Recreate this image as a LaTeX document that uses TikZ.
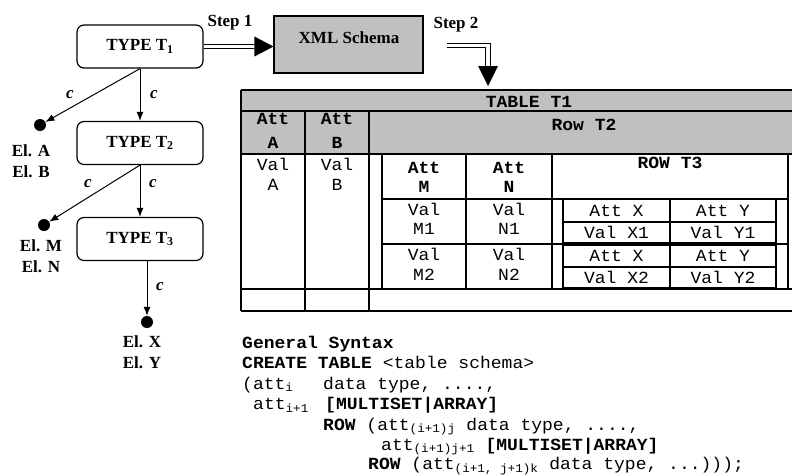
\documentclass[tikz,border=0pt]{standalone}
\usepackage{fontspec}
\setmainfont{Liberation Serif}
\newfontfamily\codefont[FakeStretch=1.06]{Liberation Mono}
\usetikzlibrary{arrows.meta,calc}
\definecolor{hdrgray}{HTML}{C0C0C0}
\tikzset{
  typebox/.style={draw, line width=1.2pt, rounded corners=7pt, minimum width=126pt, minimum height=43pt, inner sep=0pt, font=\fontsize{17}{20}\selectfont\bfseries},
  dotnode/.style={circle, fill=black, inner sep=0pt, minimum size=12pt},
  elabel/.style={font=\fontsize{17}{21}\selectfont\bfseries, align=center, inner sep=0pt},
  clabel/.style={font=\fontsize{17}{20}\selectfont\bfseries\itshape, inner sep=0pt},
  steplabel/.style={font=\fontsize{17}{20}\selectfont\bfseries, inner sep=0pt, anchor=base},
  conn/.style={line width=1pt, -{Latex[length=9pt,width=7pt]}},
  dbl/.style={double, double distance=3.4pt, line width=1.2pt, line join=miter},
  tline/.style={line width=1.4pt},
  nline/.style={line width=1.1pt},
  cell/.style={font=\codefont\fontsize{17}{20}\selectfont, inner sep=0pt, anchor=base},
  cellb/.style={cell, font=\codefont\fontsize{17}{20}\selectfont\bfseries},
  code/.style={font=\codefont\fontsize{17}{20}\selectfont, inner sep=0pt, anchor=base west}
}
\begin{document}
\begin{tikzpicture}[x=1pt,y=-1pt]
\useasboundingbox (0,0) rectangle (792,475);
\clip (0,0) rectangle (792,475);

% ---------- left tree ----------
\node[typebox] (t1) at (140,46.5) {TYPE T\textsubscript{1}};
\node[typebox] (t2) at (140,143) {TYPE T\textsubscript{2}};
\node[typebox] (t3) at (140,239) {TYPE T\textsubscript{3}};
\node[dotnode] (da) at (40,125) {};
\node[dotnode] (dm) at (44,225) {};
\node[dotnode] (dx) at (147,322) {};

\draw[conn] (t1.south) -- (t2.north);
\draw[conn] (t1.south) -- (da);
\draw[conn] (t2.south) -- (t3.north);
\draw[conn] (t2.south) -- (dm);
\draw[conn] (dx |- t3.south) -- (dx);

\node[clabel] (c1) at (70,95) {c};
\node[clabel] (c2) at (154,95) {c};
\node[clabel] (c3) at (88,184) {c};
\node[clabel] (c4) at (153,184) {c};
\node[clabel] (c5) at (160,287) {c};

\node[elabel] (ela) at (31,161) {El. A\\El. B};
\node[elabel] (elm) at (41,256) {El. M\\El. N};
\node[elabel] (elx) at (142,352) {El. X\\El. Y};

% ---------- XML schema and steps ----------
\node[draw, fill=hdrgray, line width=1.1pt, minimum width=149pt, minimum height=57pt, inner sep=0pt] (xml) at (348.5,44.5) {};
\node[font=\fontsize{17}{20}\selectfont\bfseries, inner sep=0pt, anchor=base] (xmltxt) at (349,43) {XML Schema};

\node[steplabel] (s1) at (230,26.5) {Step 1};
\node[steplabel] (s2) at (456,28.5) {Step 2};

\coordinate (s1tip) at (t1.east -| xml.west);
\coordinate (s1tipb) at ($(s1tip)+(-19,0)$);
\draw[dbl] (t1.east) -- (s1tipb);
\fill ($(s1tip)+(-19,-10)$) -- (s1tip) -- ($(s1tip)+(-19,10)$) -- cycle;

\coordinate (s2a) at (447,45.5);
\coordinate (s2b) at (488,45.5);
\coordinate (s2c) at (488,67);
\coordinate (s2end) at (488,86);
\draw[dbl] (s2a) -- (s2b) -- (s2c);
\fill ($(s2c)+(-10,-1)$) -- ($(s2c)+(10,-1)$) -- (s2end) -- cycle;

% ---------- table ----------
\fill[hdrgray] (241,90) rectangle (805,154);
\draw[tline] (241,90) -- (805,90);
\draw[tline] (241,111) -- (805,111);
\draw[tline] (241,154) -- (805,154);
\draw[tline] (241,289) -- (805,289);
\draw[tline] (241,311) -- (805,311);
\draw[tline] (241,90) -- (241,311);
\draw[tline] (305,111) -- (305,311);
\draw[tline] (369,111) -- (369,311);
% inner table
\draw[tline] (382,154) rectangle (788,289);
\draw[tline] (466,154) -- (466,289);
\draw[tline] (552,154) -- (552,289);
\draw[tline] (382,199) -- (788,199);
\draw[tline] (382,244) -- (788,244);
% nested tables
\draw[nline] (563,199) rectangle (776,243);
\draw[nline] (563,222) -- (776,222);
\draw[nline] (670,199) -- (670,243);
\draw[nline] (563,245) rectangle (776,288);
\draw[nline] (563,267) -- (776,267);
\draw[nline] (670,245) -- (670,288);

% table texts
\node[cellb] (tt1) at (529,107) {TABLE T1};
\node[cellb] (rt2) at (584,130) {Row T2};
\node[cellb] (aa1) at (273,124) {Att};
\node[cellb] (aa2) at (273,148) {A};
\node[cellb] (ab1) at (337,124) {Att};
\node[cellb] (ab2) at (337,148) {B};
\node[cell] (va1) at (273,170) {Val};
\node[cell] (va2) at (273,190) {A};
\node[cell] (vb1) at (337,170) {Val};
\node[cell] (vb2) at (337,190) {B};
\node[cellb] (am1) at (424,173) {Att};
\node[cellb] (am2) at (424,192) {M};
\node[cellb] (an1) at (509,173) {Att};
\node[cellb] (an2) at (509,192) {N};
\node[cellb] (rt3) at (670,168) {ROW T3};
\node[cell] (vm11) at (424,215) {Val};
\node[cell] (vm12) at (424,234) {M1};
\node[cell] (vn11) at (509,215) {Val};
\node[cell] (vn12) at (509,234) {N1};
\node[cell] (vm21) at (424,260) {Val};
\node[cell] (vm22) at (424,280) {M2};
\node[cell] (vn21) at (509,260) {Val};
\node[cell] (vn22) at (509,280) {N2};
\node[cell] (ax1) at (616.5,216) {Att X};
\node[cell] (ay1) at (723,216) {Att Y};
\node[cell] (vx1) at (616.5,238) {Val X1};
\node[cell] (vy1) at (723,238) {Val Y1};
\node[cell] (ax2) at (616.5,261) {Att X};
\node[cell] (ay2) at (723,261) {Att Y};
\node[cell] (vx2) at (616.5,283) {Val X2};
\node[cell] (vy2) at (723,283) {Val Y2};

% ---------- general syntax ----------
\node[code] (g1) at (242,348) {\textbf{General Syntax}};
\node[code] (g2) at (242,368) {\textbf{CREATE TABLE} <table schema>};
\node[code] (g3a) at (242,389) {(att\textsubscript{i}};
\node[code] (g3b) at (323,389) {data type, ....,};
\node[code] (g4a) at (253,409.5) {att\textsubscript{i+1}};
\node[code] (g4b) at (325,409.5) {\textbf{[MULTISET|ARRAY]}};
\node[code] (g5) at (323,430) {\textbf{ROW} (att\textsubscript{(i+1)j} data type, ....,};
\node[code] (g6) at (381,450) {att\textsubscript{(i+1)j+1} \textbf{[MULTISET|ARRAY]}};
\node[code] (g7) at (368,469.5) {\textbf{ROW} (att\textsubscript{(i+1, j+1)k} data type, ...)));};
\end{tikzpicture}
\end{document}
